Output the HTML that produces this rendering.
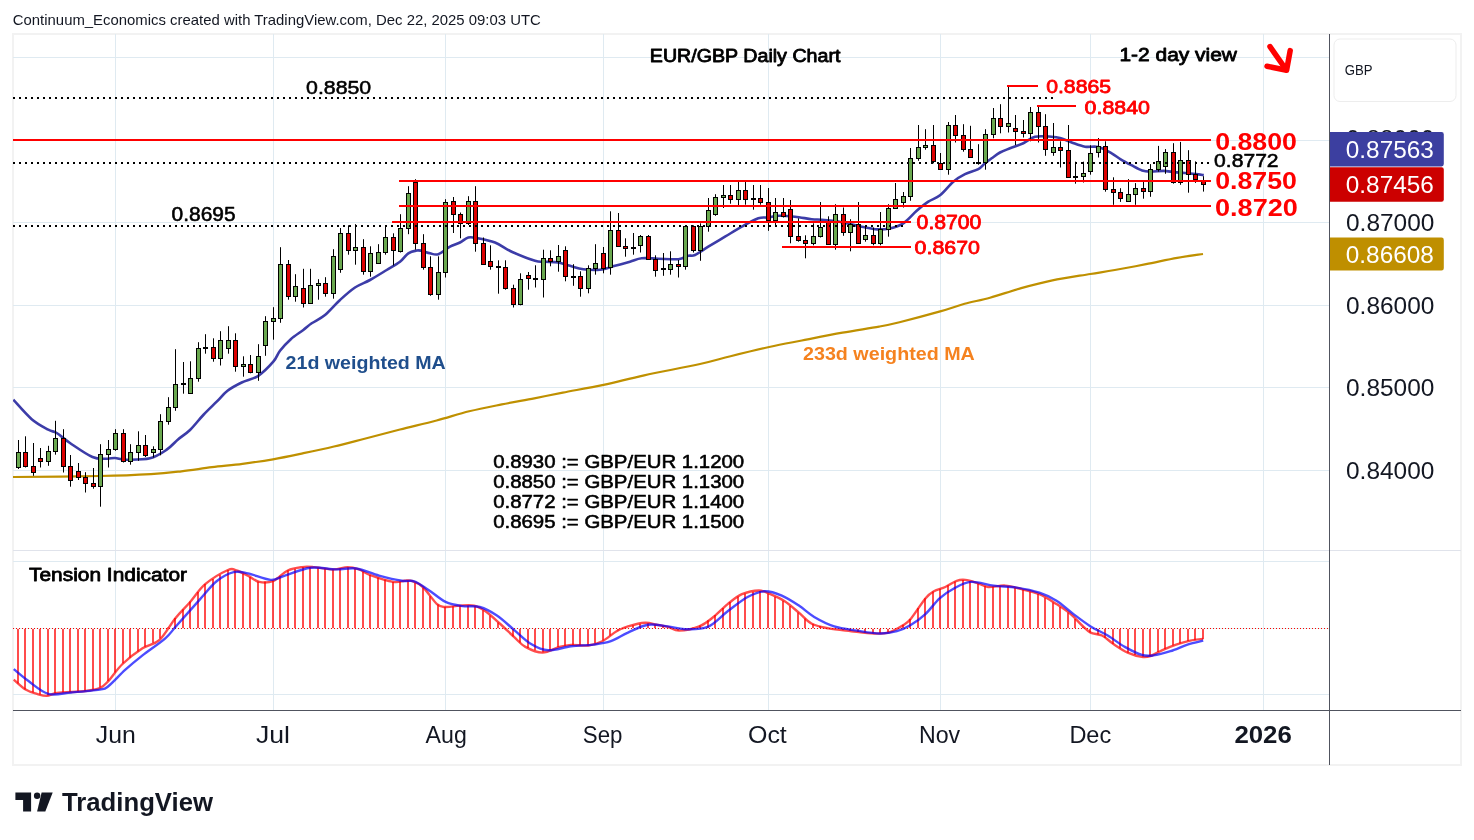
<!DOCTYPE html>
<html><head><meta charset="utf-8"><title>EUR/GBP Daily Chart</title>
<style>html,body{margin:0;padding:0;background:#fff;width:1474px;height:840px;overflow:hidden}</style>
</head><body>
<svg width="1474" height="840" viewBox="0 0 1474 840" style="display:block;will-change:transform"><rect width="1474" height="840" fill="#ffffff"/><defs><clipPath id="main"><rect x="13" y="34" width="1316" height="516"/></clipPath><clipPath id="ind"><rect x="13" y="551" width="1316" height="159"/></clipPath></defs><rect x="13" y="34" width="1448" height="731" fill="none" stroke="#f2f2f2" stroke-width="2"/><line x1="13" x2="1329" y1="57.5" y2="57.5" stroke="#dfeaf1" stroke-width="1"/><line x1="13" x2="1329" y1="140.5" y2="140.5" stroke="#dfeaf1" stroke-width="1"/><line x1="13" x2="1329" y1="222.5" y2="222.5" stroke="#dfeaf1" stroke-width="1"/><line x1="13" x2="1329" y1="305.5" y2="305.5" stroke="#dfeaf1" stroke-width="1"/><line x1="13" x2="1329" y1="387.5" y2="387.5" stroke="#dfeaf1" stroke-width="1"/><line x1="13" x2="1329" y1="470.5" y2="470.5" stroke="#dfeaf1" stroke-width="1"/><line x1="13" x2="1329" y1="561.5" y2="561.5" stroke="#dfeaf1" stroke-width="1"/><line x1="13" x2="1329" y1="694.5" y2="694.5" stroke="#dfeaf1" stroke-width="1"/><line x1="115.5" x2="115.5" y1="34" y2="550" stroke="#dfeaf1" stroke-width="1"/><line x1="115.5" x2="115.5" y1="551" y2="710" stroke="#dfeaf1" stroke-width="1"/><line x1="273.5" x2="273.5" y1="34" y2="550" stroke="#dfeaf1" stroke-width="1"/><line x1="273.5" x2="273.5" y1="551" y2="710" stroke="#dfeaf1" stroke-width="1"/><line x1="445.5" x2="445.5" y1="34" y2="550" stroke="#dfeaf1" stroke-width="1"/><line x1="445.5" x2="445.5" y1="551" y2="710" stroke="#dfeaf1" stroke-width="1"/><line x1="603.5" x2="603.5" y1="34" y2="550" stroke="#dfeaf1" stroke-width="1"/><line x1="603.5" x2="603.5" y1="551" y2="710" stroke="#dfeaf1" stroke-width="1"/><line x1="768.5" x2="768.5" y1="34" y2="550" stroke="#dfeaf1" stroke-width="1"/><line x1="768.5" x2="768.5" y1="551" y2="710" stroke="#dfeaf1" stroke-width="1"/><line x1="940.5" x2="940.5" y1="34" y2="550" stroke="#dfeaf1" stroke-width="1"/><line x1="940.5" x2="940.5" y1="551" y2="710" stroke="#dfeaf1" stroke-width="1"/><line x1="1090.5" x2="1090.5" y1="34" y2="550" stroke="#dfeaf1" stroke-width="1"/><line x1="1090.5" x2="1090.5" y1="551" y2="710" stroke="#dfeaf1" stroke-width="1"/><line x1="1263.5" x2="1263.5" y1="34" y2="550" stroke="#dfeaf1" stroke-width="1"/><line x1="1263.5" x2="1263.5" y1="551" y2="710" stroke="#dfeaf1" stroke-width="1"/><g clip-path="url(#main)"><path d="M13.00,477.00 C27.50,476.83 77.02,476.48 100.00,476.00 C122.98,475.52 137.33,474.88 150.90,474.10 C164.47,473.32 171.22,472.45 181.40,471.30 C191.58,470.15 201.82,468.45 212.00,467.20 C222.18,465.95 232.33,465.12 242.50,463.80 C252.67,462.48 262.83,461.07 273.00,459.30 C283.17,457.53 293.33,455.33 303.50,453.20 C313.67,451.07 323.82,448.92 334.00,446.50 C344.18,444.08 353.60,441.53 364.60,438.70 C375.60,435.87 388.00,432.53 400.00,429.50 C412.00,426.47 425.07,423.53 436.60,420.50 C448.13,417.47 458.33,413.98 469.20,411.30 C480.07,408.62 490.95,406.57 501.80,404.40 C512.65,402.23 524.13,400.27 534.30,398.30 C544.47,396.33 551.27,394.85 562.80,392.60 C574.33,390.35 589.93,387.68 603.50,384.80 C617.07,381.92 628.12,378.77 644.20,375.30 C660.28,371.83 685.62,367.18 700.00,364.00 C714.38,360.82 718.97,359.03 730.50,356.20 C742.03,353.37 757.32,349.62 769.20,347.00 C781.08,344.38 789.58,342.88 801.80,340.50 C814.02,338.12 829.62,335.02 842.50,332.70 C855.38,330.38 869.60,328.35 879.10,326.60 C888.60,324.85 889.32,324.73 899.50,322.20 C909.68,319.67 929.35,314.47 940.20,311.40 C951.05,308.33 956.30,306.08 964.60,303.80 C972.90,301.52 980.57,300.32 990.00,297.70 C999.43,295.08 1010.80,291.00 1021.20,288.10 C1031.60,285.20 1040.88,282.65 1052.40,280.30 C1063.92,277.95 1079.90,275.72 1090.30,274.00 C1100.70,272.28 1105.52,271.63 1114.80,270.00 C1124.08,268.37 1135.60,266.22 1146.00,264.20 C1156.40,262.18 1167.70,259.60 1177.20,257.90 C1186.70,256.20 1198.70,254.65 1203.00,254.00" fill="none" stroke="#bf9000" stroke-width="2.2" stroke-linejoin="round"/><path d="M13.30,399.70 C16.37,402.95 25.87,414.20 31.70,419.20 C37.53,424.20 44.13,427.40 48.30,429.70 C52.47,432.00 53.08,430.78 56.70,433.00 C60.32,435.22 64.03,439.00 70.00,443.00 C75.97,447.00 86.38,454.38 92.50,457.00 C98.62,459.62 102.95,458.53 106.70,458.70 C110.45,458.87 111.67,457.83 115.00,458.00 C118.33,458.17 120.87,459.65 126.70,459.70 C132.53,459.75 143.33,459.97 150.00,458.30 C156.67,456.63 161.98,452.88 166.70,449.70 C171.42,446.52 174.42,442.48 178.30,439.20 C182.18,435.92 185.83,434.03 190.00,430.00 C194.17,425.97 198.85,419.72 203.30,415.00 C207.75,410.28 212.67,405.73 216.70,401.70 C220.73,397.67 223.33,394.00 227.50,390.80 C231.67,387.60 236.57,385.00 241.70,382.50 C246.83,380.00 253.03,379.27 258.30,375.80 C263.57,372.33 269.68,365.87 273.30,361.70 C276.92,357.53 277.08,354.55 280.00,350.80 C282.92,347.05 286.92,342.67 290.80,339.20 C294.68,335.73 299.82,332.65 303.30,330.00 C306.78,327.35 308.08,325.80 311.70,323.30 C315.32,320.80 320.28,318.88 325.00,315.00 C329.72,311.12 335.00,304.58 340.00,300.00 C345.00,295.42 350.00,290.83 355.00,287.50 C360.00,284.17 364.72,282.92 370.00,280.00 C375.28,277.08 381.70,273.05 386.70,270.00 C391.70,266.95 396.40,264.48 400.00,261.70 C403.60,258.92 405.52,255.17 408.30,253.30 C411.08,251.43 414.47,250.92 416.70,250.50 C418.93,250.08 419.48,250.33 421.70,250.80 C423.92,251.27 427.23,252.73 430.00,253.30 C432.77,253.87 434.97,255.30 438.30,254.20 C441.63,253.10 446.38,248.65 450.00,246.70 C453.62,244.75 456.95,244.03 460.00,242.50 C463.05,240.97 465.52,238.25 468.30,237.50 C471.08,236.75 472.25,237.17 476.70,238.00 C481.15,238.83 489.17,240.22 495.00,242.50 C500.83,244.78 505.03,248.65 511.70,251.70 C518.37,254.75 529.45,259.13 535.00,260.80 C540.55,262.47 541.12,261.42 545.00,261.70 C548.88,261.98 554.13,261.82 558.30,262.50 C562.47,263.18 565.83,264.68 570.00,265.80 C574.17,266.92 578.30,268.55 583.30,269.20 C588.30,269.85 594.72,270.27 600.00,269.70 C605.28,269.13 610.00,267.13 615.00,265.80 C620.00,264.47 625.55,262.95 630.00,261.70 C634.45,260.45 636.98,258.80 641.70,258.30 C646.42,257.80 652.20,258.55 658.30,258.70 C664.40,258.85 673.30,259.68 678.30,259.20 C683.30,258.72 685.52,256.50 688.30,255.80 C691.08,255.10 691.67,256.52 695.00,255.00 C698.33,253.48 703.30,249.75 708.30,246.70 C713.30,243.65 719.43,240.03 725.00,236.70 C730.57,233.37 736.15,229.77 741.70,226.70 C747.25,223.63 753.87,219.83 758.30,218.30 C762.73,216.77 764.97,217.92 768.30,217.50 C771.63,217.08 773.85,215.93 778.30,215.80 C782.75,215.67 789.43,216.13 795.00,216.70 C800.57,217.27 807.25,218.70 811.70,219.20 C816.15,219.70 817.53,219.35 821.70,219.70 C825.87,220.05 832.82,220.75 836.70,221.30 C840.58,221.85 840.83,222.10 845.00,223.00 C849.17,223.90 856.70,225.67 861.70,226.70 C866.70,227.73 870.57,228.87 875.00,229.20 C879.43,229.53 883.58,229.68 888.30,228.70 C893.02,227.72 898.57,226.28 903.30,223.30 C908.03,220.32 912.53,214.40 916.70,210.80 C920.87,207.20 924.42,204.28 928.30,201.70 C932.18,199.12 935.83,198.63 940.00,195.30 C944.17,191.97 949.13,185.22 953.30,181.70 C957.47,178.18 960.83,176.28 965.00,174.20 C969.17,172.12 974.97,171.02 978.30,169.20 C981.63,167.38 982.77,165.12 985.00,163.30 C987.23,161.48 989.20,160.10 991.70,158.30 C994.20,156.50 996.95,154.17 1000.00,152.50 C1003.05,150.83 1006.12,149.83 1010.00,148.30 C1013.88,146.77 1019.13,145.23 1023.30,143.30 C1027.47,141.37 1030.27,137.80 1035.00,136.70 C1039.73,135.60 1047.53,136.48 1051.70,136.70 C1055.87,136.92 1056.67,137.03 1060.00,138.00 C1063.33,138.97 1067.53,141.05 1071.70,142.50 C1075.87,143.95 1080.57,145.95 1085.00,146.70 C1089.43,147.45 1093.85,145.90 1098.30,147.00 C1102.75,148.10 1107.97,151.25 1111.70,153.30 C1115.43,155.35 1117.42,157.32 1120.70,159.30 C1123.98,161.28 1127.83,163.33 1131.40,165.20 C1134.97,167.07 1138.88,169.43 1142.10,170.50 C1145.32,171.57 1147.12,171.53 1150.70,171.60 C1154.28,171.67 1159.67,170.82 1163.60,170.90 C1167.53,170.98 1170.73,171.75 1174.30,172.10 C1177.87,172.45 1181.43,172.67 1185.00,173.00 C1188.57,173.33 1192.57,173.75 1195.70,174.10 C1198.83,174.45 1202.45,174.93 1203.80,175.10" fill="none" stroke="#3c3ca8" stroke-width="2.6" stroke-linejoin="round" stroke-linecap="butt"/><line x1="18.5" x2="18.5" y1="440.0" y2="469.0" stroke="#000" stroke-width="1"/><rect x="16.5" y="452.5" width="4" height="15" fill="#6aa84f" stroke="#000" stroke-width="1"/><line x1="25.5" x2="25.5" y1="436.3" y2="467.5" stroke="#000" stroke-width="1"/><rect x="23.5" y="452.5" width="4" height="14" fill="#dc0000" stroke="#000" stroke-width="1"/><line x1="33.5" x2="33.5" y1="443.0" y2="475.8" stroke="#000" stroke-width="1"/><rect x="31.5" y="466.5" width="4" height="6" fill="#dc0000" stroke="#000" stroke-width="1"/><line x1="40.5" x2="40.5" y1="448.0" y2="467.5" stroke="#000" stroke-width="1"/><rect x="38.5" y="458.5" width="4" height="3" fill="#dc0000" stroke="#000" stroke-width="1"/><line x1="48.5" x2="48.5" y1="445.8" y2="465.8" stroke="#000" stroke-width="1"/><rect x="46.5" y="451.5" width="4" height="10" fill="#6aa84f" stroke="#000" stroke-width="1"/><line x1="55.5" x2="55.5" y1="420.8" y2="454.7" stroke="#000" stroke-width="1"/><rect x="53.5" y="438.5" width="4" height="13" fill="#6aa84f" stroke="#000" stroke-width="1"/><line x1="63.5" x2="63.5" y1="429.2" y2="472.5" stroke="#000" stroke-width="1"/><rect x="61.5" y="438.5" width="4" height="28" fill="#dc0000" stroke="#000" stroke-width="1"/><line x1="70.5" x2="70.5" y1="455.0" y2="486.7" stroke="#000" stroke-width="1"/><rect x="68.5" y="466.5" width="4" height="14" fill="#dc0000" stroke="#000" stroke-width="1"/><line x1="78.5" x2="78.5" y1="463.0" y2="480.0" stroke="#000" stroke-width="1"/><rect x="76.5" y="471.5" width="4" height="6" fill="#dc0000" stroke="#000" stroke-width="1"/><line x1="85.5" x2="85.5" y1="472.2" y2="492.5" stroke="#000" stroke-width="1"/><rect x="83.5" y="477.5" width="4" height="6" fill="#dc0000" stroke="#000" stroke-width="1"/><line x1="93.5" x2="93.5" y1="468.0" y2="488.7" stroke="#000" stroke-width="1"/><rect x="91.5" y="483.5" width="4" height="3" fill="#dc0000" stroke="#000" stroke-width="1"/><line x1="100.5" x2="100.5" y1="444.2" y2="506.7" stroke="#000" stroke-width="1"/><rect x="98.5" y="454.5" width="4" height="32" fill="#6aa84f" stroke="#000" stroke-width="1"/><line x1="108.5" x2="108.5" y1="440.0" y2="467.5" stroke="#000" stroke-width="1"/><rect x="106.5" y="449.5" width="4" height="5" fill="#6aa84f" stroke="#000" stroke-width="1"/><line x1="115.5" x2="115.5" y1="429.2" y2="450.8" stroke="#000" stroke-width="1"/><rect x="113.5" y="433.5" width="4" height="16" fill="#6aa84f" stroke="#000" stroke-width="1"/><line x1="123.5" x2="123.5" y1="429.2" y2="462.5" stroke="#000" stroke-width="1"/><rect x="121.5" y="433.5" width="4" height="28" fill="#dc0000" stroke="#000" stroke-width="1"/><line x1="130.5" x2="130.5" y1="444.2" y2="464.7" stroke="#000" stroke-width="1"/><rect x="128.5" y="452.5" width="4" height="9" fill="#6aa84f" stroke="#000" stroke-width="1"/><line x1="138.5" x2="138.5" y1="431.3" y2="460.8" stroke="#000" stroke-width="1"/><rect x="136.5" y="445.5" width="4" height="7" fill="#6aa84f" stroke="#000" stroke-width="1"/><line x1="145.5" x2="145.5" y1="435.0" y2="457.0" stroke="#000" stroke-width="1"/><rect x="143.5" y="445.5" width="4" height="10" fill="#dc0000" stroke="#000" stroke-width="1"/><line x1="153.5" x2="153.5" y1="446.3" y2="457.5" stroke="#000" stroke-width="1"/><rect x="151.5" y="449.5" width="4" height="3" fill="#6aa84f" stroke="#000" stroke-width="1"/><line x1="160.5" x2="160.5" y1="414.2" y2="455.3" stroke="#000" stroke-width="1"/><rect x="158.5" y="421.5" width="4" height="28" fill="#6aa84f" stroke="#000" stroke-width="1"/><line x1="168.5" x2="168.5" y1="397.2" y2="424.7" stroke="#000" stroke-width="1"/><rect x="166.5" y="407.5" width="4" height="14" fill="#6aa84f" stroke="#000" stroke-width="1"/><line x1="175.5" x2="175.5" y1="349.2" y2="410.8" stroke="#000" stroke-width="1"/><rect x="173.5" y="384.5" width="4" height="23" fill="#6aa84f" stroke="#000" stroke-width="1"/><line x1="183.5" x2="183.5" y1="362.0" y2="393.7" stroke="#000" stroke-width="1"/><rect x="181" y="383" width="5" height="2" fill="#000"/><line x1="190.5" x2="190.5" y1="361.3" y2="393.7" stroke="#000" stroke-width="1"/><rect x="188.5" y="378.5" width="4" height="15" fill="#6aa84f" stroke="#000" stroke-width="1"/><line x1="198.5" x2="198.5" y1="342.2" y2="381.7" stroke="#000" stroke-width="1"/><rect x="196.5" y="348.5" width="4" height="30" fill="#6aa84f" stroke="#000" stroke-width="1"/><line x1="205.5" x2="205.5" y1="334.2" y2="353.7" stroke="#000" stroke-width="1"/><rect x="203" y="347" width="5" height="2" fill="#000"/><line x1="213.5" x2="213.5" y1="338.3" y2="361.7" stroke="#000" stroke-width="1"/><rect x="211.5" y="347.5" width="4" height="11" fill="#dc0000" stroke="#000" stroke-width="1"/><line x1="220.5" x2="220.5" y1="331.2" y2="365.5" stroke="#000" stroke-width="1"/><rect x="218.5" y="340.5" width="4" height="18" fill="#6aa84f" stroke="#000" stroke-width="1"/><line x1="228.5" x2="228.5" y1="326.2" y2="353.7" stroke="#000" stroke-width="1"/><rect x="226.5" y="340.5" width="4" height="8" fill="#6aa84f" stroke="#000" stroke-width="1"/><line x1="235.5" x2="235.5" y1="333.3" y2="371.7" stroke="#000" stroke-width="1"/><rect x="233.5" y="340.5" width="4" height="26" fill="#dc0000" stroke="#000" stroke-width="1"/><line x1="243.5" x2="243.5" y1="356.3" y2="376.7" stroke="#000" stroke-width="1"/><rect x="241.5" y="364.5" width="4" height="2" fill="#6aa84f" stroke="#000" stroke-width="1"/><line x1="250.5" x2="250.5" y1="355.0" y2="373.3" stroke="#000" stroke-width="1"/><rect x="248.5" y="364.5" width="4" height="8" fill="#dc0000" stroke="#000" stroke-width="1"/><line x1="258.5" x2="258.5" y1="344.2" y2="380.8" stroke="#000" stroke-width="1"/><rect x="256.5" y="356.5" width="4" height="16" fill="#6aa84f" stroke="#000" stroke-width="1"/><line x1="265.5" x2="265.5" y1="316.2" y2="355.8" stroke="#000" stroke-width="1"/><rect x="263.5" y="321.5" width="4" height="24" fill="#6aa84f" stroke="#000" stroke-width="1"/><line x1="273.5" x2="273.5" y1="307.2" y2="339.7" stroke="#000" stroke-width="1"/><rect x="271.5" y="318.5" width="4" height="3" fill="#6aa84f" stroke="#000" stroke-width="1"/><line x1="280.5" x2="280.5" y1="247.2" y2="322.8" stroke="#000" stroke-width="1"/><rect x="278.5" y="264.5" width="4" height="54" fill="#6aa84f" stroke="#000" stroke-width="1"/><line x1="288.5" x2="288.5" y1="260.0" y2="299.7" stroke="#000" stroke-width="1"/><rect x="286.5" y="264.5" width="4" height="32" fill="#dc0000" stroke="#000" stroke-width="1"/><line x1="295.5" x2="295.5" y1="274.2" y2="301.7" stroke="#000" stroke-width="1"/><rect x="293.5" y="286.5" width="4" height="10" fill="#6aa84f" stroke="#000" stroke-width="1"/><line x1="303.5" x2="303.5" y1="268.8" y2="307.5" stroke="#000" stroke-width="1"/><rect x="301.5" y="288.5" width="4" height="15" fill="#dc0000" stroke="#000" stroke-width="1"/><line x1="310.5" x2="310.5" y1="268.8" y2="303.3" stroke="#000" stroke-width="1"/><rect x="308.5" y="285.5" width="4" height="18" fill="#6aa84f" stroke="#000" stroke-width="1"/><line x1="318.5" x2="318.5" y1="279.2" y2="299.7" stroke="#000" stroke-width="1"/><rect x="316.5" y="283.5" width="4" height="2" fill="#6aa84f" stroke="#000" stroke-width="1"/><line x1="325.5" x2="325.5" y1="277.2" y2="296.7" stroke="#000" stroke-width="1"/><rect x="323.5" y="283.5" width="4" height="10" fill="#dc0000" stroke="#000" stroke-width="1"/><line x1="333.5" x2="333.5" y1="249.2" y2="298.7" stroke="#000" stroke-width="1"/><rect x="331.5" y="256.5" width="4" height="37" fill="#6aa84f" stroke="#000" stroke-width="1"/><line x1="340.5" x2="340.5" y1="228.0" y2="272.8" stroke="#000" stroke-width="1"/><rect x="338.5" y="233.5" width="4" height="36" fill="#6aa84f" stroke="#000" stroke-width="1"/><line x1="348.5" x2="348.5" y1="225.3" y2="254.7" stroke="#000" stroke-width="1"/><rect x="346.5" y="233.5" width="4" height="17" fill="#dc0000" stroke="#000" stroke-width="1"/><line x1="355.5" x2="355.5" y1="224.2" y2="264.7" stroke="#000" stroke-width="1"/><rect x="353.5" y="247.5" width="4" height="3" fill="#6aa84f" stroke="#000" stroke-width="1"/><line x1="363.5" x2="363.5" y1="239.2" y2="274.7" stroke="#000" stroke-width="1"/><rect x="361.5" y="247.5" width="4" height="24" fill="#dc0000" stroke="#000" stroke-width="1"/><line x1="370.5" x2="370.5" y1="246.3" y2="276.7" stroke="#000" stroke-width="1"/><rect x="368.5" y="253.5" width="4" height="18" fill="#6aa84f" stroke="#000" stroke-width="1"/><line x1="378.5" x2="378.5" y1="244.2" y2="263.3" stroke="#000" stroke-width="1"/><rect x="376.5" y="252.5" width="4" height="11" fill="#6aa84f" stroke="#000" stroke-width="1"/><line x1="385.5" x2="385.5" y1="225.3" y2="254.7" stroke="#000" stroke-width="1"/><rect x="383.5" y="237.5" width="4" height="15" fill="#6aa84f" stroke="#000" stroke-width="1"/><line x1="393.5" x2="393.5" y1="233.3" y2="265.5" stroke="#000" stroke-width="1"/><rect x="391.5" y="237.5" width="4" height="13" fill="#dc0000" stroke="#000" stroke-width="1"/><line x1="400.5" x2="400.5" y1="214.2" y2="252.5" stroke="#000" stroke-width="1"/><rect x="398.5" y="228.5" width="4" height="23" fill="#6aa84f" stroke="#000" stroke-width="1"/><line x1="408.5" x2="408.5" y1="186.2" y2="234.2" stroke="#000" stroke-width="1"/><rect x="406.5" y="193.5" width="4" height="35" fill="#6aa84f" stroke="#000" stroke-width="1"/><line x1="415.5" x2="415.5" y1="179.2" y2="249.7" stroke="#000" stroke-width="1"/><rect x="413.5" y="182.5" width="4" height="61" fill="#dc0000" stroke="#000" stroke-width="1"/><line x1="423.5" x2="423.5" y1="234.2" y2="269.7" stroke="#000" stroke-width="1"/><rect x="421.5" y="243.5" width="4" height="24" fill="#dc0000" stroke="#000" stroke-width="1"/><line x1="430.5" x2="430.5" y1="256.3" y2="295.8" stroke="#000" stroke-width="1"/><rect x="428.5" y="267.5" width="4" height="27" fill="#dc0000" stroke="#000" stroke-width="1"/><line x1="438.5" x2="438.5" y1="256.3" y2="299.7" stroke="#000" stroke-width="1"/><rect x="436.5" y="272.5" width="4" height="22" fill="#6aa84f" stroke="#000" stroke-width="1"/><line x1="445.5" x2="445.5" y1="199.2" y2="277.5" stroke="#000" stroke-width="1"/><rect x="443.5" y="202.5" width="4" height="70" fill="#6aa84f" stroke="#000" stroke-width="1"/><line x1="453.5" x2="453.5" y1="197.0" y2="233.0" stroke="#000" stroke-width="1"/><rect x="451.5" y="201.5" width="4" height="13" fill="#dc0000" stroke="#000" stroke-width="1"/><line x1="460.5" x2="460.5" y1="212.5" y2="238.3" stroke="#000" stroke-width="1"/><rect x="458.5" y="214.5" width="4" height="9" fill="#dc0000" stroke="#000" stroke-width="1"/><line x1="468.5" x2="468.5" y1="196.2" y2="225.0" stroke="#000" stroke-width="1"/><rect x="466.5" y="201.5" width="4" height="22" fill="#6aa84f" stroke="#000" stroke-width="1"/><line x1="475.5" x2="475.5" y1="186.2" y2="251.7" stroke="#000" stroke-width="1"/><rect x="473.5" y="201.5" width="4" height="42" fill="#dc0000" stroke="#000" stroke-width="1"/><line x1="483.5" x2="483.5" y1="237.5" y2="264.7" stroke="#000" stroke-width="1"/><rect x="481.5" y="243.5" width="4" height="21" fill="#dc0000" stroke="#000" stroke-width="1"/><line x1="490.5" x2="490.5" y1="245.3" y2="269.7" stroke="#000" stroke-width="1"/><rect x="488.5" y="261.5" width="4" height="5" fill="#dc0000" stroke="#000" stroke-width="1"/><line x1="498.5" x2="498.5" y1="260.3" y2="293.7" stroke="#000" stroke-width="1"/><rect x="496" y="266" width="5" height="2" fill="#000"/><line x1="505.5" x2="505.5" y1="260.3" y2="289.7" stroke="#000" stroke-width="1"/><rect x="503.5" y="267.5" width="4" height="21" fill="#dc0000" stroke="#000" stroke-width="1"/><line x1="513.5" x2="513.5" y1="284.7" y2="307.5" stroke="#000" stroke-width="1"/><rect x="511.5" y="288.5" width="4" height="16" fill="#dc0000" stroke="#000" stroke-width="1"/><line x1="520.5" x2="520.5" y1="273.3" y2="305.3" stroke="#000" stroke-width="1"/><rect x="518.5" y="279.5" width="4" height="25" fill="#6aa84f" stroke="#000" stroke-width="1"/><line x1="528.5" x2="528.5" y1="272.0" y2="289.7" stroke="#000" stroke-width="1"/><rect x="526.5" y="275.5" width="4" height="3" fill="#dc0000" stroke="#000" stroke-width="1"/><line x1="535.5" x2="535.5" y1="265.3" y2="287.5" stroke="#000" stroke-width="1"/><rect x="533" y="278" width="5" height="2" fill="#000"/><line x1="543.5" x2="543.5" y1="249.7" y2="297.5" stroke="#000" stroke-width="1"/><rect x="541.5" y="258.5" width="4" height="21" fill="#6aa84f" stroke="#000" stroke-width="1"/><line x1="550.5" x2="550.5" y1="250.3" y2="266.3" stroke="#000" stroke-width="1"/><rect x="548.5" y="258.5" width="4" height="3" fill="#dc0000" stroke="#000" stroke-width="1"/><line x1="558.5" x2="558.5" y1="245.0" y2="271.7" stroke="#000" stroke-width="1"/><rect x="556.5" y="256.5" width="4" height="5" fill="#6aa84f" stroke="#000" stroke-width="1"/><line x1="565.5" x2="565.5" y1="246.3" y2="281.3" stroke="#000" stroke-width="1"/><rect x="563.5" y="250.5" width="4" height="26" fill="#dc0000" stroke="#000" stroke-width="1"/><line x1="573.5" x2="573.5" y1="264.2" y2="285.8" stroke="#000" stroke-width="1"/><rect x="571" y="276" width="5" height="2" fill="#000"/><line x1="580.5" x2="580.5" y1="271.3" y2="296.7" stroke="#000" stroke-width="1"/><rect x="578.5" y="276.5" width="4" height="12" fill="#dc0000" stroke="#000" stroke-width="1"/><line x1="588.5" x2="588.5" y1="265.3" y2="293.3" stroke="#000" stroke-width="1"/><rect x="586.5" y="268.5" width="4" height="20" fill="#6aa84f" stroke="#000" stroke-width="1"/><line x1="595.5" x2="595.5" y1="244.2" y2="274.7" stroke="#000" stroke-width="1"/><rect x="593.5" y="263.5" width="4" height="5" fill="#6aa84f" stroke="#000" stroke-width="1"/><line x1="603.5" x2="603.5" y1="247.0" y2="273.3" stroke="#000" stroke-width="1"/><rect x="601.5" y="253.5" width="4" height="15" fill="#dc0000" stroke="#000" stroke-width="1"/><line x1="610.5" x2="610.5" y1="211.3" y2="274.7" stroke="#000" stroke-width="1"/><rect x="608.5" y="230.5" width="4" height="37" fill="#6aa84f" stroke="#000" stroke-width="1"/><line x1="618.5" x2="618.5" y1="213.0" y2="246.3" stroke="#000" stroke-width="1"/><rect x="616.5" y="230.5" width="4" height="16" fill="#dc0000" stroke="#000" stroke-width="1"/><line x1="625.5" x2="625.5" y1="238.3" y2="256.7" stroke="#000" stroke-width="1"/><rect x="623.5" y="246.5" width="4" height="2" fill="#dc0000" stroke="#000" stroke-width="1"/><line x1="633.5" x2="633.5" y1="233.0" y2="254.7" stroke="#000" stroke-width="1"/><rect x="631" y="247" width="5" height="2" fill="#000"/><line x1="640.5" x2="640.5" y1="235.0" y2="252.5" stroke="#000" stroke-width="1"/><rect x="638.5" y="236.5" width="4" height="9" fill="#6aa84f" stroke="#000" stroke-width="1"/><line x1="648.5" x2="648.5" y1="235.0" y2="259.2" stroke="#000" stroke-width="1"/><rect x="646.5" y="236.5" width="4" height="23" fill="#dc0000" stroke="#000" stroke-width="1"/><line x1="655.5" x2="655.5" y1="255.3" y2="276.7" stroke="#000" stroke-width="1"/><rect x="653.5" y="259.5" width="4" height="11" fill="#dc0000" stroke="#000" stroke-width="1"/><line x1="663.5" x2="663.5" y1="253.0" y2="275.8" stroke="#000" stroke-width="1"/><rect x="661" y="268" width="5" height="2" fill="#000"/><line x1="670.5" x2="670.5" y1="251.3" y2="274.7" stroke="#000" stroke-width="1"/><rect x="668.5" y="264.5" width="4" height="5" fill="#6aa84f" stroke="#000" stroke-width="1"/><line x1="678.5" x2="678.5" y1="260.0" y2="277.5" stroke="#000" stroke-width="1"/><rect x="676.5" y="264.5" width="4" height="2" fill="#dc0000" stroke="#000" stroke-width="1"/><line x1="685.5" x2="685.5" y1="225.8" y2="269.7" stroke="#000" stroke-width="1"/><rect x="683.5" y="226.5" width="4" height="40" fill="#6aa84f" stroke="#000" stroke-width="1"/><line x1="693.5" x2="693.5" y1="225.3" y2="252.5" stroke="#000" stroke-width="1"/><rect x="691.5" y="226.5" width="4" height="24" fill="#dc0000" stroke="#000" stroke-width="1"/><line x1="700.5" x2="700.5" y1="223.3" y2="260.8" stroke="#000" stroke-width="1"/><rect x="698.5" y="226.5" width="4" height="24" fill="#6aa84f" stroke="#000" stroke-width="1"/><line x1="708.5" x2="708.5" y1="198.0" y2="231.7" stroke="#000" stroke-width="1"/><rect x="706.5" y="210.5" width="4" height="16" fill="#6aa84f" stroke="#000" stroke-width="1"/><line x1="715.5" x2="715.5" y1="194.2" y2="215.8" stroke="#000" stroke-width="1"/><rect x="713.5" y="197.5" width="4" height="17" fill="#6aa84f" stroke="#000" stroke-width="1"/><line x1="723.5" x2="723.5" y1="185.0" y2="208.0" stroke="#000" stroke-width="1"/><rect x="721.5" y="195.5" width="4" height="2" fill="#6aa84f" stroke="#000" stroke-width="1"/><line x1="730.5" x2="730.5" y1="185.0" y2="203.7" stroke="#000" stroke-width="1"/><rect x="728.5" y="195.5" width="4" height="4" fill="#dc0000" stroke="#000" stroke-width="1"/><line x1="738.5" x2="738.5" y1="181.7" y2="205.0" stroke="#000" stroke-width="1"/><rect x="736.5" y="190.5" width="4" height="9" fill="#6aa84f" stroke="#000" stroke-width="1"/><line x1="745.5" x2="745.5" y1="181.7" y2="204.7" stroke="#000" stroke-width="1"/><rect x="743.5" y="190.5" width="4" height="9" fill="#dc0000" stroke="#000" stroke-width="1"/><line x1="753.5" x2="753.5" y1="185.0" y2="209.7" stroke="#000" stroke-width="1"/><rect x="751" y="198" width="5" height="2" fill="#000"/><line x1="760.5" x2="760.5" y1="185.0" y2="204.7" stroke="#000" stroke-width="1"/><rect x="758.5" y="198.5" width="4" height="4" fill="#dc0000" stroke="#000" stroke-width="1"/><line x1="768.5" x2="768.5" y1="188.0" y2="230.8" stroke="#000" stroke-width="1"/><rect x="766.5" y="202.5" width="4" height="18" fill="#dc0000" stroke="#000" stroke-width="1"/><line x1="775.5" x2="775.5" y1="198.0" y2="226.3" stroke="#000" stroke-width="1"/><rect x="773.5" y="212.5" width="4" height="8" fill="#6aa84f" stroke="#000" stroke-width="1"/><line x1="783.5" x2="783.5" y1="198.0" y2="217.5" stroke="#000" stroke-width="1"/><rect x="781.5" y="212.5" width="4" height="4" fill="#dc0000" stroke="#000" stroke-width="1"/><line x1="790.5" x2="790.5" y1="200.0" y2="243.3" stroke="#000" stroke-width="1"/><rect x="788.5" y="209.5" width="4" height="27" fill="#dc0000" stroke="#000" stroke-width="1"/><line x1="798.5" x2="798.5" y1="218.3" y2="241.7" stroke="#000" stroke-width="1"/><rect x="796.5" y="236.5" width="4" height="4" fill="#dc0000" stroke="#000" stroke-width="1"/><line x1="805.5" x2="805.5" y1="235.3" y2="258.3" stroke="#000" stroke-width="1"/><rect x="803.5" y="240.5" width="4" height="3" fill="#dc0000" stroke="#000" stroke-width="1"/><line x1="813.5" x2="813.5" y1="223.3" y2="245.3" stroke="#000" stroke-width="1"/><rect x="811.5" y="236.5" width="4" height="7" fill="#6aa84f" stroke="#000" stroke-width="1"/><line x1="820.5" x2="820.5" y1="202.0" y2="237.5" stroke="#000" stroke-width="1"/><rect x="818.5" y="227.5" width="4" height="9" fill="#6aa84f" stroke="#000" stroke-width="1"/><line x1="828.5" x2="828.5" y1="216.3" y2="244.2" stroke="#000" stroke-width="1"/><rect x="826.5" y="222.5" width="4" height="22" fill="#dc0000" stroke="#000" stroke-width="1"/><line x1="835.5" x2="835.5" y1="204.2" y2="249.7" stroke="#000" stroke-width="1"/><rect x="833.5" y="214.5" width="4" height="30" fill="#6aa84f" stroke="#000" stroke-width="1"/><line x1="843.5" x2="843.5" y1="207.5" y2="235.8" stroke="#000" stroke-width="1"/><rect x="841.5" y="214.5" width="4" height="18" fill="#dc0000" stroke="#000" stroke-width="1"/><line x1="850.5" x2="850.5" y1="219.2" y2="251.3" stroke="#000" stroke-width="1"/><rect x="848.5" y="224.5" width="4" height="8" fill="#6aa84f" stroke="#000" stroke-width="1"/><line x1="858.5" x2="858.5" y1="202.0" y2="243.3" stroke="#000" stroke-width="1"/><rect x="856.5" y="224.5" width="4" height="19" fill="#dc0000" stroke="#000" stroke-width="1"/><line x1="865.5" x2="865.5" y1="225.3" y2="241.7" stroke="#000" stroke-width="1"/><rect x="863.5" y="235.5" width="4" height="4" fill="#6aa84f" stroke="#000" stroke-width="1"/><line x1="873.5" x2="873.5" y1="227.5" y2="245.3" stroke="#000" stroke-width="1"/><rect x="871.5" y="235.5" width="4" height="8" fill="#dc0000" stroke="#000" stroke-width="1"/><line x1="880.5" x2="880.5" y1="212.0" y2="245.3" stroke="#000" stroke-width="1"/><rect x="878.5" y="229.5" width="4" height="14" fill="#6aa84f" stroke="#000" stroke-width="1"/><line x1="888.5" x2="888.5" y1="204.2" y2="236.7" stroke="#000" stroke-width="1"/><rect x="886.5" y="208.5" width="4" height="21" fill="#6aa84f" stroke="#000" stroke-width="1"/><line x1="895.5" x2="895.5" y1="183.0" y2="208.3" stroke="#000" stroke-width="1"/><rect x="893.5" y="199.5" width="4" height="9" fill="#6aa84f" stroke="#000" stroke-width="1"/><line x1="903.5" x2="903.5" y1="192.0" y2="207.5" stroke="#000" stroke-width="1"/><rect x="901.5" y="196.5" width="4" height="6" fill="#6aa84f" stroke="#000" stroke-width="1"/><line x1="910.5" x2="910.5" y1="148.0" y2="200.8" stroke="#000" stroke-width="1"/><rect x="908.5" y="158.5" width="4" height="38" fill="#6aa84f" stroke="#000" stroke-width="1"/><line x1="918.5" x2="918.5" y1="125.0" y2="160.8" stroke="#000" stroke-width="1"/><rect x="916.5" y="147.5" width="4" height="11" fill="#6aa84f" stroke="#000" stroke-width="1"/><line x1="925.5" x2="925.5" y1="129.2" y2="149.7" stroke="#000" stroke-width="1"/><rect x="923.5" y="145.5" width="4" height="2" fill="#6aa84f" stroke="#000" stroke-width="1"/><line x1="933.5" x2="933.5" y1="125.0" y2="163.3" stroke="#000" stroke-width="1"/><rect x="931.5" y="145.5" width="4" height="16" fill="#dc0000" stroke="#000" stroke-width="1"/><line x1="940.5" x2="940.5" y1="153.0" y2="169.2" stroke="#000" stroke-width="1"/><rect x="938.5" y="163.5" width="4" height="6" fill="#dc0000" stroke="#000" stroke-width="1"/><line x1="948.5" x2="948.5" y1="122.0" y2="174.7" stroke="#000" stroke-width="1"/><rect x="946.5" y="125.5" width="4" height="44" fill="#6aa84f" stroke="#000" stroke-width="1"/><line x1="955.5" x2="955.5" y1="115.0" y2="142.5" stroke="#000" stroke-width="1"/><rect x="953.5" y="125.5" width="4" height="10" fill="#dc0000" stroke="#000" stroke-width="1"/><line x1="963.5" x2="963.5" y1="124.2" y2="151.7" stroke="#000" stroke-width="1"/><rect x="961.5" y="135.5" width="4" height="14" fill="#dc0000" stroke="#000" stroke-width="1"/><line x1="970.5" x2="970.5" y1="125.8" y2="157.5" stroke="#000" stroke-width="1"/><rect x="968.5" y="149.5" width="4" height="8" fill="#dc0000" stroke="#000" stroke-width="1"/><line x1="978.5" x2="978.5" y1="144.2" y2="164.7" stroke="#000" stroke-width="1"/><rect x="976" y="162" width="5" height="2" fill="#000"/><line x1="985.5" x2="985.5" y1="129.2" y2="169.7" stroke="#000" stroke-width="1"/><rect x="983.5" y="134.5" width="4" height="28" fill="#6aa84f" stroke="#000" stroke-width="1"/><line x1="993.5" x2="993.5" y1="108.0" y2="138.3" stroke="#000" stroke-width="1"/><rect x="991.5" y="118.5" width="4" height="16" fill="#6aa84f" stroke="#000" stroke-width="1"/><line x1="1000.5" x2="1000.5" y1="104.2" y2="133.3" stroke="#000" stroke-width="1"/><rect x="998.5" y="118.5" width="4" height="8" fill="#dc0000" stroke="#000" stroke-width="1"/><line x1="1008.5" x2="1008.5" y1="85.8" y2="132.5" stroke="#000" stroke-width="1"/><rect x="1006.5" y="123.5" width="4" height="3" fill="#6aa84f" stroke="#000" stroke-width="1"/><line x1="1015.5" x2="1015.5" y1="115.0" y2="145.0" stroke="#000" stroke-width="1"/><rect x="1013.5" y="128.5" width="4" height="3" fill="#dc0000" stroke="#000" stroke-width="1"/><line x1="1023.5" x2="1023.5" y1="120.0" y2="137.5" stroke="#000" stroke-width="1"/><rect x="1021.5" y="131.5" width="4" height="2" fill="#dc0000" stroke="#000" stroke-width="1"/><line x1="1030.5" x2="1030.5" y1="107.0" y2="141.3" stroke="#000" stroke-width="1"/><rect x="1028.5" y="112.5" width="4" height="21" fill="#6aa84f" stroke="#000" stroke-width="1"/><line x1="1038.5" x2="1038.5" y1="107.0" y2="142.5" stroke="#000" stroke-width="1"/><rect x="1036.5" y="112.5" width="4" height="14" fill="#dc0000" stroke="#000" stroke-width="1"/><line x1="1045.5" x2="1045.5" y1="114.2" y2="155.8" stroke="#000" stroke-width="1"/><rect x="1043.5" y="126.5" width="4" height="23" fill="#dc0000" stroke="#000" stroke-width="1"/><line x1="1053.5" x2="1053.5" y1="123.0" y2="155.8" stroke="#000" stroke-width="1"/><rect x="1051.5" y="147.5" width="4" height="5" fill="#6aa84f" stroke="#000" stroke-width="1"/><line x1="1060.5" x2="1060.5" y1="141.3" y2="167.5" stroke="#000" stroke-width="1"/><rect x="1058.5" y="147.5" width="4" height="3" fill="#dc0000" stroke="#000" stroke-width="1"/><line x1="1068.5" x2="1068.5" y1="125.0" y2="177.5" stroke="#000" stroke-width="1"/><rect x="1066.5" y="150.5" width="4" height="27" fill="#dc0000" stroke="#000" stroke-width="1"/><line x1="1075.5" x2="1075.5" y1="161.7" y2="183.7" stroke="#000" stroke-width="1"/><rect x="1073" y="176" width="5" height="2" fill="#000"/><line x1="1083.5" x2="1083.5" y1="161.7" y2="182.5" stroke="#000" stroke-width="1"/><rect x="1081.5" y="173.5" width="4" height="3" fill="#6aa84f" stroke="#000" stroke-width="1"/><line x1="1090.5" x2="1090.5" y1="145.3" y2="174.7" stroke="#000" stroke-width="1"/><rect x="1088.5" y="153.5" width="4" height="18" fill="#6aa84f" stroke="#000" stroke-width="1"/><line x1="1098.5" x2="1098.5" y1="138.0" y2="157.5" stroke="#000" stroke-width="1"/><rect x="1096.5" y="146.5" width="4" height="6" fill="#6aa84f" stroke="#000" stroke-width="1"/><line x1="1105.5" x2="1105.5" y1="141.3" y2="191.7" stroke="#000" stroke-width="1"/><rect x="1103.5" y="146.5" width="4" height="43" fill="#dc0000" stroke="#000" stroke-width="1"/><line x1="1113.5" x2="1113.5" y1="177.3" y2="204.8" stroke="#000" stroke-width="1"/><rect x="1111.5" y="189.5" width="4" height="3" fill="#dc0000" stroke="#000" stroke-width="1"/><line x1="1120.5" x2="1120.5" y1="188.2" y2="201.9" stroke="#000" stroke-width="1"/><rect x="1118.5" y="192.5" width="4" height="6" fill="#dc0000" stroke="#000" stroke-width="1"/><line x1="1128.5" x2="1128.5" y1="179.1" y2="201.6" stroke="#000" stroke-width="1"/><rect x="1126.5" y="194.5" width="4" height="7" fill="#6aa84f" stroke="#000" stroke-width="1"/><line x1="1135.5" x2="1135.5" y1="183.1" y2="204.8" stroke="#000" stroke-width="1"/><rect x="1133.5" y="188.5" width="4" height="6" fill="#6aa84f" stroke="#000" stroke-width="1"/><line x1="1143.5" x2="1143.5" y1="182.0" y2="198.7" stroke="#000" stroke-width="1"/><rect x="1141.5" y="188.5" width="4" height="3" fill="#dc0000" stroke="#000" stroke-width="1"/><line x1="1150.5" x2="1150.5" y1="164.1" y2="196.8" stroke="#000" stroke-width="1"/><rect x="1148.5" y="169.5" width="4" height="22" fill="#6aa84f" stroke="#000" stroke-width="1"/><line x1="1158.5" x2="1158.5" y1="145.9" y2="171.6" stroke="#000" stroke-width="1"/><rect x="1156.5" y="161.5" width="4" height="8" fill="#6aa84f" stroke="#000" stroke-width="1"/><line x1="1165.5" x2="1165.5" y1="149.1" y2="173.8" stroke="#000" stroke-width="1"/><rect x="1163.5" y="152.5" width="4" height="14" fill="#6aa84f" stroke="#000" stroke-width="1"/><line x1="1173.5" x2="1173.5" y1="143.2" y2="183.7" stroke="#000" stroke-width="1"/><rect x="1171.5" y="152.5" width="4" height="30" fill="#dc0000" stroke="#000" stroke-width="1"/><line x1="1180.5" x2="1180.5" y1="141.9" y2="184.8" stroke="#000" stroke-width="1"/><rect x="1178.5" y="160.5" width="4" height="22" fill="#6aa84f" stroke="#000" stroke-width="1"/><line x1="1188.5" x2="1188.5" y1="150.2" y2="192.7" stroke="#000" stroke-width="1"/><rect x="1186.5" y="160.5" width="4" height="14" fill="#dc0000" stroke="#000" stroke-width="1"/><line x1="1195.5" x2="1195.5" y1="161.4" y2="182.9" stroke="#000" stroke-width="1"/><rect x="1193.5" y="174.5" width="4" height="5" fill="#dc0000" stroke="#000" stroke-width="1"/><line x1="1203.5" x2="1203.5" y1="176.2" y2="191.6" stroke="#000" stroke-width="1"/><rect x="1201.5" y="180.5" width="4" height="4" fill="#dc0000" stroke="#000" stroke-width="1"/><line x1="13" x2="1053" y1="98" y2="98" stroke="#000" stroke-width="2" stroke-dasharray="2 4"/><line x1="13" x2="1209" y1="163" y2="163" stroke="#000" stroke-width="2" stroke-dasharray="2 4"/><line x1="13" x2="903" y1="226" y2="226" stroke="#000" stroke-width="2" stroke-dasharray="2 4"/><line x1="13" x2="1211" y1="140" y2="140" stroke="#ff0000" stroke-width="2"/><line x1="399" x2="1211" y1="181" y2="181" stroke="#ff0000" stroke-width="2"/><line x1="399" x2="1211" y1="206" y2="206" stroke="#ff0000" stroke-width="2"/><line x1="392" x2="911" y1="222" y2="222" stroke="#ff0000" stroke-width="2"/><line x1="782" x2="911" y1="247" y2="247" stroke="#ff0000" stroke-width="2"/><line x1="1007" x2="1038" y1="86" y2="86" stroke="#ff0000" stroke-width="2"/><line x1="1037" x2="1076" y1="106" y2="106" stroke="#ff0000" stroke-width="2"/></g><text x="12.80" y="24.7" font-family="'Liberation Sans', sans-serif" font-size="14.8" font-weight="normal" fill="#131722" textLength="528.00" lengthAdjust="spacingAndGlyphs">Continuum_Economics created with TradingView.com, Dec 22, 2025 09:03 UTC</text><text x="649.80" y="61.5" font-family="'Liberation Sans', sans-serif" font-size="17.7" font-weight="normal" fill="#000" stroke="#000" stroke-width="0.8" stroke-linejoin="round" textLength="190.60" lengthAdjust="spacingAndGlyphs">EUR/GBP Daily Chart</text><text x="1119.40" y="60.6" font-family="'Liberation Sans', sans-serif" font-size="18" font-weight="normal" fill="#000" stroke="#000" stroke-width="0.8" stroke-linejoin="round" textLength="117.60" lengthAdjust="spacingAndGlyphs">1-2 day view</text><g stroke="#ff0000" stroke-width="5.5" stroke-linecap="round" stroke-linejoin="round" fill="none"><line x1="1270" y1="46.6" x2="1286" y2="69.5"/><polyline points="1267,66.3 1286.6,70.2 1290.2,50.6"/></g><text x="306.10" y="93.8" font-family="'Liberation Sans', sans-serif" font-size="19" font-weight="normal" fill="#000" stroke="#000" stroke-width="0.55" stroke-linejoin="round" textLength="65.10" lengthAdjust="spacingAndGlyphs">0.8850</text><text x="171.60" y="220.9" font-family="'Liberation Sans', sans-serif" font-size="19.3" font-weight="normal" fill="#000" stroke="#000" stroke-width="0.55" stroke-linejoin="round" textLength="64.00" lengthAdjust="spacingAndGlyphs">0.8695</text><text x="1214.10" y="167.3" font-family="'Liberation Sans', sans-serif" font-size="18" font-weight="normal" fill="#000" stroke="#000" stroke-width="0.55" stroke-linejoin="round" textLength="64.50" lengthAdjust="spacingAndGlyphs">0.8772</text><text x="1215.20" y="149.7" font-family="'Liberation Sans', sans-serif" font-size="24" font-weight="bold" fill="#ff0000" textLength="81.80" lengthAdjust="spacingAndGlyphs">0.8800</text><text x="1215.20" y="188.8" font-family="'Liberation Sans', sans-serif" font-size="24" font-weight="bold" fill="#ff0000" textLength="81.80" lengthAdjust="spacingAndGlyphs">0.8750</text><text x="1215.00" y="215.6" font-family="'Liberation Sans', sans-serif" font-size="24" font-weight="bold" fill="#ff0000" textLength="82.80" lengthAdjust="spacingAndGlyphs">0.8720</text><text x="916.60" y="228.9" font-family="'Liberation Sans', sans-serif" font-size="19.4" font-weight="normal" fill="#ff0000" stroke="#ff0000" stroke-width="0.8" stroke-linejoin="round" textLength="64.80" lengthAdjust="spacingAndGlyphs">0.8700</text><text x="914.60" y="253.8" font-family="'Liberation Sans', sans-serif" font-size="19.2" font-weight="normal" fill="#ff0000" stroke="#ff0000" stroke-width="0.8" stroke-linejoin="round" textLength="65.40" lengthAdjust="spacingAndGlyphs">0.8670</text><text x="1046.20" y="92.75" font-family="'Liberation Sans', sans-serif" font-size="19.1" font-weight="normal" fill="#ff0000" stroke="#ff0000" stroke-width="0.8" stroke-linejoin="round" textLength="64.80" lengthAdjust="spacingAndGlyphs">0.8865</text><text x="1084.60" y="113.7" font-family="'Liberation Sans', sans-serif" font-size="19" font-weight="normal" fill="#ff0000" stroke="#ff0000" stroke-width="0.8" stroke-linejoin="round" textLength="65.40" lengthAdjust="spacingAndGlyphs">0.8840</text><text x="285.60" y="368.6" font-family="'Liberation Sans', sans-serif" font-size="19" font-weight="bold" fill="#1f4e8c" textLength="160.20" lengthAdjust="spacingAndGlyphs">21d weighted MA</text><text x="803.00" y="359.7" font-family="'Liberation Sans', sans-serif" font-size="18.7" font-weight="bold" fill="#f5821f" textLength="171.80" lengthAdjust="spacingAndGlyphs">233d weighted MA</text><text x="493.20" y="467.8" font-family="'Liberation Sans', sans-serif" font-size="18" font-weight="normal" fill="#000" stroke="#000" stroke-width="0.55" stroke-linejoin="round" textLength="251.00" lengthAdjust="spacingAndGlyphs">0.8930 := GBP/EUR 1.1200</text><text x="493.20" y="487.7" font-family="'Liberation Sans', sans-serif" font-size="18" font-weight="normal" fill="#000" stroke="#000" stroke-width="0.55" stroke-linejoin="round" textLength="251.00" lengthAdjust="spacingAndGlyphs">0.8850 := GBP/EUR 1.1300</text><text x="493.20" y="507.7" font-family="'Liberation Sans', sans-serif" font-size="18" font-weight="normal" fill="#000" stroke="#000" stroke-width="0.55" stroke-linejoin="round" textLength="251.00" lengthAdjust="spacingAndGlyphs">0.8772 := GBP/EUR 1.1400</text><text x="493.20" y="527.6" font-family="'Liberation Sans', sans-serif" font-size="18" font-weight="normal" fill="#000" stroke="#000" stroke-width="0.55" stroke-linejoin="round" textLength="251.00" lengthAdjust="spacingAndGlyphs">0.8695 := GBP/EUR 1.1500</text><g clip-path="url(#ind)"><line x1="18" x2="18" y1="628.5" y2="683.6" stroke="#ff0000" stroke-opacity="0.7" stroke-width="2"/><line x1="25" x2="25" y1="628.5" y2="689.5" stroke="#ff0000" stroke-opacity="0.7" stroke-width="2"/><line x1="33" x2="33" y1="628.5" y2="692.6" stroke="#ff0000" stroke-opacity="0.7" stroke-width="2"/><line x1="40" x2="40" y1="628.5" y2="694.6" stroke="#ff0000" stroke-opacity="0.7" stroke-width="2"/><line x1="48" x2="48" y1="628.5" y2="695.5" stroke="#ff0000" stroke-opacity="0.7" stroke-width="2"/><line x1="55" x2="55" y1="628.5" y2="693.4" stroke="#ff0000" stroke-opacity="0.7" stroke-width="2"/><line x1="63" x2="63" y1="628.5" y2="692.5" stroke="#ff0000" stroke-opacity="0.7" stroke-width="2"/><line x1="70" x2="70" y1="628.5" y2="692.1" stroke="#ff0000" stroke-opacity="0.7" stroke-width="2"/><line x1="78" x2="78" y1="628.5" y2="691.5" stroke="#ff0000" stroke-opacity="0.7" stroke-width="2"/><line x1="85" x2="85" y1="628.5" y2="691.0" stroke="#ff0000" stroke-opacity="0.7" stroke-width="2"/><line x1="93" x2="93" y1="628.5" y2="689.4" stroke="#ff0000" stroke-opacity="0.7" stroke-width="2"/><line x1="100" x2="100" y1="628.5" y2="687.5" stroke="#ff0000" stroke-opacity="0.7" stroke-width="2"/><line x1="108" x2="108" y1="628.5" y2="680.9" stroke="#ff0000" stroke-opacity="0.7" stroke-width="2"/><line x1="115" x2="115" y1="628.5" y2="672.4" stroke="#ff0000" stroke-opacity="0.7" stroke-width="2"/><line x1="123" x2="123" y1="628.5" y2="663.2" stroke="#ff0000" stroke-opacity="0.7" stroke-width="2"/><line x1="130" x2="130" y1="628.5" y2="657.7" stroke="#ff0000" stroke-opacity="0.7" stroke-width="2"/><line x1="138" x2="138" y1="628.5" y2="651.4" stroke="#ff0000" stroke-opacity="0.7" stroke-width="2"/><line x1="145" x2="145" y1="628.5" y2="646.8" stroke="#ff0000" stroke-opacity="0.7" stroke-width="2"/><line x1="153" x2="153" y1="628.5" y2="642.8" stroke="#ff0000" stroke-opacity="0.7" stroke-width="2"/><line x1="160" x2="160" y1="628.5" y2="638.6" stroke="#ff0000" stroke-opacity="0.7" stroke-width="2"/><line x1="168" x2="168" y1="628.5" y2="627.6" stroke="#ff0000" stroke-opacity="0.7" stroke-width="2"/><line x1="175" x2="175" y1="628.5" y2="618.1" stroke="#ff0000" stroke-opacity="0.7" stroke-width="2"/><line x1="183" x2="183" y1="628.5" y2="609.3" stroke="#ff0000" stroke-opacity="0.7" stroke-width="2"/><line x1="190" x2="190" y1="628.5" y2="601.5" stroke="#ff0000" stroke-opacity="0.7" stroke-width="2"/><line x1="198" x2="198" y1="628.5" y2="592.1" stroke="#ff0000" stroke-opacity="0.7" stroke-width="2"/><line x1="205" x2="205" y1="628.5" y2="584.0" stroke="#ff0000" stroke-opacity="0.7" stroke-width="2"/><line x1="213" x2="213" y1="628.5" y2="579.0" stroke="#ff0000" stroke-opacity="0.7" stroke-width="2"/><line x1="220" x2="220" y1="628.5" y2="574.7" stroke="#ff0000" stroke-opacity="0.7" stroke-width="2"/><line x1="228" x2="228" y1="628.5" y2="570.0" stroke="#ff0000" stroke-opacity="0.7" stroke-width="2"/><line x1="235" x2="235" y1="628.5" y2="570.4" stroke="#ff0000" stroke-opacity="0.7" stroke-width="2"/><line x1="243" x2="243" y1="628.5" y2="573.6" stroke="#ff0000" stroke-opacity="0.7" stroke-width="2"/><line x1="250" x2="250" y1="628.5" y2="577.0" stroke="#ff0000" stroke-opacity="0.7" stroke-width="2"/><line x1="258" x2="258" y1="628.5" y2="581.5" stroke="#ff0000" stroke-opacity="0.7" stroke-width="2"/><line x1="265" x2="265" y1="628.5" y2="581.4" stroke="#ff0000" stroke-opacity="0.7" stroke-width="2"/><line x1="273" x2="273" y1="628.5" y2="580.8" stroke="#ff0000" stroke-opacity="0.7" stroke-width="2"/><line x1="280" x2="280" y1="628.5" y2="575.8" stroke="#ff0000" stroke-opacity="0.7" stroke-width="2"/><line x1="288" x2="288" y1="628.5" y2="570.3" stroke="#ff0000" stroke-opacity="0.7" stroke-width="2"/><line x1="295" x2="295" y1="628.5" y2="568.7" stroke="#ff0000" stroke-opacity="0.7" stroke-width="2"/><line x1="303" x2="303" y1="628.5" y2="567.1" stroke="#ff0000" stroke-opacity="0.7" stroke-width="2"/><line x1="310" x2="310" y1="628.5" y2="567.1" stroke="#ff0000" stroke-opacity="0.7" stroke-width="2"/><line x1="318" x2="318" y1="628.5" y2="567.7" stroke="#ff0000" stroke-opacity="0.7" stroke-width="2"/><line x1="325" x2="325" y1="628.5" y2="568.5" stroke="#ff0000" stroke-opacity="0.7" stroke-width="2"/><line x1="333" x2="333" y1="628.5" y2="569.4" stroke="#ff0000" stroke-opacity="0.7" stroke-width="2"/><line x1="340" x2="340" y1="628.5" y2="568.2" stroke="#ff0000" stroke-opacity="0.7" stroke-width="2"/><line x1="348" x2="348" y1="628.5" y2="567.3" stroke="#ff0000" stroke-opacity="0.7" stroke-width="2"/><line x1="355" x2="355" y1="628.5" y2="568.7" stroke="#ff0000" stroke-opacity="0.7" stroke-width="2"/><line x1="363" x2="363" y1="628.5" y2="571.6" stroke="#ff0000" stroke-opacity="0.7" stroke-width="2"/><line x1="370" x2="370" y1="628.5" y2="575.1" stroke="#ff0000" stroke-opacity="0.7" stroke-width="2"/><line x1="378" x2="378" y1="628.5" y2="577.5" stroke="#ff0000" stroke-opacity="0.7" stroke-width="2"/><line x1="385" x2="385" y1="628.5" y2="579.6" stroke="#ff0000" stroke-opacity="0.7" stroke-width="2"/><line x1="393" x2="393" y1="628.5" y2="581.9" stroke="#ff0000" stroke-opacity="0.7" stroke-width="2"/><line x1="400" x2="400" y1="628.5" y2="581.2" stroke="#ff0000" stroke-opacity="0.7" stroke-width="2"/><line x1="408" x2="408" y1="628.5" y2="580.8" stroke="#ff0000" stroke-opacity="0.7" stroke-width="2"/><line x1="415" x2="415" y1="628.5" y2="583.0" stroke="#ff0000" stroke-opacity="0.7" stroke-width="2"/><line x1="423" x2="423" y1="628.5" y2="587.8" stroke="#ff0000" stroke-opacity="0.7" stroke-width="2"/><line x1="430" x2="430" y1="628.5" y2="596.3" stroke="#ff0000" stroke-opacity="0.7" stroke-width="2"/><line x1="438" x2="438" y1="628.5" y2="604.6" stroke="#ff0000" stroke-opacity="0.7" stroke-width="2"/><line x1="445" x2="445" y1="628.5" y2="607.0" stroke="#ff0000" stroke-opacity="0.7" stroke-width="2"/><line x1="453" x2="453" y1="628.5" y2="606.2" stroke="#ff0000" stroke-opacity="0.7" stroke-width="2"/><line x1="460" x2="460" y1="628.5" y2="605.6" stroke="#ff0000" stroke-opacity="0.7" stroke-width="2"/><line x1="468" x2="468" y1="628.5" y2="605.6" stroke="#ff0000" stroke-opacity="0.7" stroke-width="2"/><line x1="475" x2="475" y1="628.5" y2="606.3" stroke="#ff0000" stroke-opacity="0.7" stroke-width="2"/><line x1="483" x2="483" y1="628.5" y2="610.3" stroke="#ff0000" stroke-opacity="0.7" stroke-width="2"/><line x1="490" x2="490" y1="628.5" y2="615.6" stroke="#ff0000" stroke-opacity="0.7" stroke-width="2"/><line x1="498" x2="498" y1="628.5" y2="622.5" stroke="#ff0000" stroke-opacity="0.7" stroke-width="2"/><line x1="505" x2="505" y1="628.5" y2="628.9" stroke="#ff0000" stroke-opacity="0.7" stroke-width="2"/><line x1="513" x2="513" y1="628.5" y2="636.4" stroke="#ff0000" stroke-opacity="0.7" stroke-width="2"/><line x1="520" x2="520" y1="628.5" y2="642.6" stroke="#ff0000" stroke-opacity="0.7" stroke-width="2"/><line x1="528" x2="528" y1="628.5" y2="647.9" stroke="#ff0000" stroke-opacity="0.7" stroke-width="2"/><line x1="535" x2="535" y1="628.5" y2="650.3" stroke="#ff0000" stroke-opacity="0.7" stroke-width="2"/><line x1="543" x2="543" y1="628.5" y2="652.3" stroke="#ff0000" stroke-opacity="0.7" stroke-width="2"/><line x1="550" x2="550" y1="628.5" y2="649.9" stroke="#ff0000" stroke-opacity="0.7" stroke-width="2"/><line x1="558" x2="558" y1="628.5" y2="647.3" stroke="#ff0000" stroke-opacity="0.7" stroke-width="2"/><line x1="565" x2="565" y1="628.5" y2="645.9" stroke="#ff0000" stroke-opacity="0.7" stroke-width="2"/><line x1="573" x2="573" y1="628.5" y2="645.0" stroke="#ff0000" stroke-opacity="0.7" stroke-width="2"/><line x1="580" x2="580" y1="628.5" y2="645.2" stroke="#ff0000" stroke-opacity="0.7" stroke-width="2"/><line x1="588" x2="588" y1="628.5" y2="645.4" stroke="#ff0000" stroke-opacity="0.7" stroke-width="2"/><line x1="595" x2="595" y1="628.5" y2="643.3" stroke="#ff0000" stroke-opacity="0.7" stroke-width="2"/><line x1="603" x2="603" y1="628.5" y2="640.4" stroke="#ff0000" stroke-opacity="0.7" stroke-width="2"/><line x1="610" x2="610" y1="628.5" y2="635.5" stroke="#ff0000" stroke-opacity="0.7" stroke-width="2"/><line x1="618" x2="618" y1="628.5" y2="630.4" stroke="#ff0000" stroke-opacity="0.7" stroke-width="2"/><line x1="625" x2="625" y1="628.5" y2="627.5" stroke="#ff0000" stroke-opacity="0.7" stroke-width="2"/><line x1="633" x2="633" y1="628.5" y2="625.2" stroke="#ff0000" stroke-opacity="0.7" stroke-width="2"/><line x1="640" x2="640" y1="628.5" y2="623.7" stroke="#ff0000" stroke-opacity="0.7" stroke-width="2"/><line x1="648" x2="648" y1="628.5" y2="623.3" stroke="#ff0000" stroke-opacity="0.7" stroke-width="2"/><line x1="655" x2="655" y1="628.5" y2="624.5" stroke="#ff0000" stroke-opacity="0.7" stroke-width="2"/><line x1="663" x2="663" y1="628.5" y2="626.1" stroke="#ff0000" stroke-opacity="0.7" stroke-width="2"/><line x1="670" x2="670" y1="628.5" y2="627.8" stroke="#ff0000" stroke-opacity="0.7" stroke-width="2"/><line x1="678" x2="678" y1="628.5" y2="630.4" stroke="#ff0000" stroke-opacity="0.7" stroke-width="2"/><line x1="685" x2="685" y1="628.5" y2="629.3" stroke="#ff0000" stroke-opacity="0.7" stroke-width="2"/><line x1="693" x2="693" y1="628.5" y2="627.6" stroke="#ff0000" stroke-opacity="0.7" stroke-width="2"/><line x1="700" x2="700" y1="628.5" y2="625.5" stroke="#ff0000" stroke-opacity="0.7" stroke-width="2"/><line x1="708" x2="708" y1="628.5" y2="620.2" stroke="#ff0000" stroke-opacity="0.7" stroke-width="2"/><line x1="715" x2="715" y1="628.5" y2="615.1" stroke="#ff0000" stroke-opacity="0.7" stroke-width="2"/><line x1="723" x2="723" y1="628.5" y2="607.9" stroke="#ff0000" stroke-opacity="0.7" stroke-width="2"/><line x1="730" x2="730" y1="628.5" y2="602.1" stroke="#ff0000" stroke-opacity="0.7" stroke-width="2"/><line x1="738" x2="738" y1="628.5" y2="596.6" stroke="#ff0000" stroke-opacity="0.7" stroke-width="2"/><line x1="745" x2="745" y1="628.5" y2="593.4" stroke="#ff0000" stroke-opacity="0.7" stroke-width="2"/><line x1="753" x2="753" y1="628.5" y2="591.7" stroke="#ff0000" stroke-opacity="0.7" stroke-width="2"/><line x1="760" x2="760" y1="628.5" y2="591.0" stroke="#ff0000" stroke-opacity="0.7" stroke-width="2"/><line x1="768" x2="768" y1="628.5" y2="593.6" stroke="#ff0000" stroke-opacity="0.7" stroke-width="2"/><line x1="775" x2="775" y1="628.5" y2="596.7" stroke="#ff0000" stroke-opacity="0.7" stroke-width="2"/><line x1="783" x2="783" y1="628.5" y2="600.7" stroke="#ff0000" stroke-opacity="0.7" stroke-width="2"/><line x1="790" x2="790" y1="628.5" y2="606.0" stroke="#ff0000" stroke-opacity="0.7" stroke-width="2"/><line x1="798" x2="798" y1="628.5" y2="612.4" stroke="#ff0000" stroke-opacity="0.7" stroke-width="2"/><line x1="805" x2="805" y1="628.5" y2="618.4" stroke="#ff0000" stroke-opacity="0.7" stroke-width="2"/><line x1="813" x2="813" y1="628.5" y2="624.1" stroke="#ff0000" stroke-opacity="0.7" stroke-width="2"/><line x1="820" x2="820" y1="628.5" y2="626.1" stroke="#ff0000" stroke-opacity="0.7" stroke-width="2"/><line x1="828" x2="828" y1="628.5" y2="628.4" stroke="#ff0000" stroke-opacity="0.7" stroke-width="2"/><line x1="835" x2="835" y1="628.5" y2="629.3" stroke="#ff0000" stroke-opacity="0.7" stroke-width="2"/><line x1="843" x2="843" y1="628.5" y2="630.2" stroke="#ff0000" stroke-opacity="0.7" stroke-width="2"/><line x1="850" x2="850" y1="628.5" y2="631.1" stroke="#ff0000" stroke-opacity="0.7" stroke-width="2"/><line x1="858" x2="858" y1="628.5" y2="631.9" stroke="#ff0000" stroke-opacity="0.7" stroke-width="2"/><line x1="865" x2="865" y1="628.5" y2="632.6" stroke="#ff0000" stroke-opacity="0.7" stroke-width="2"/><line x1="873" x2="873" y1="628.5" y2="633.4" stroke="#ff0000" stroke-opacity="0.7" stroke-width="2"/><line x1="880" x2="880" y1="628.5" y2="633.1" stroke="#ff0000" stroke-opacity="0.7" stroke-width="2"/><line x1="888" x2="888" y1="628.5" y2="632.5" stroke="#ff0000" stroke-opacity="0.7" stroke-width="2"/><line x1="895" x2="895" y1="628.5" y2="629.0" stroke="#ff0000" stroke-opacity="0.7" stroke-width="2"/><line x1="903" x2="903" y1="628.5" y2="624.7" stroke="#ff0000" stroke-opacity="0.7" stroke-width="2"/><line x1="910" x2="910" y1="628.5" y2="618.9" stroke="#ff0000" stroke-opacity="0.7" stroke-width="2"/><line x1="918" x2="918" y1="628.5" y2="608.1" stroke="#ff0000" stroke-opacity="0.7" stroke-width="2"/><line x1="925" x2="925" y1="628.5" y2="598.3" stroke="#ff0000" stroke-opacity="0.7" stroke-width="2"/><line x1="933" x2="933" y1="628.5" y2="591.6" stroke="#ff0000" stroke-opacity="0.7" stroke-width="2"/><line x1="940" x2="940" y1="628.5" y2="588.8" stroke="#ff0000" stroke-opacity="0.7" stroke-width="2"/><line x1="948" x2="948" y1="628.5" y2="585.3" stroke="#ff0000" stroke-opacity="0.7" stroke-width="2"/><line x1="955" x2="955" y1="628.5" y2="581.5" stroke="#ff0000" stroke-opacity="0.7" stroke-width="2"/><line x1="963" x2="963" y1="628.5" y2="580.1" stroke="#ff0000" stroke-opacity="0.7" stroke-width="2"/><line x1="970" x2="970" y1="628.5" y2="581.2" stroke="#ff0000" stroke-opacity="0.7" stroke-width="2"/><line x1="978" x2="978" y1="628.5" y2="583.5" stroke="#ff0000" stroke-opacity="0.7" stroke-width="2"/><line x1="985" x2="985" y1="628.5" y2="586.0" stroke="#ff0000" stroke-opacity="0.7" stroke-width="2"/><line x1="993" x2="993" y1="628.5" y2="586.6" stroke="#ff0000" stroke-opacity="0.7" stroke-width="2"/><line x1="1000" x2="1000" y1="628.5" y2="586.0" stroke="#ff0000" stroke-opacity="0.7" stroke-width="2"/><line x1="1008" x2="1008" y1="628.5" y2="586.3" stroke="#ff0000" stroke-opacity="0.7" stroke-width="2"/><line x1="1015" x2="1015" y1="628.5" y2="587.8" stroke="#ff0000" stroke-opacity="0.7" stroke-width="2"/><line x1="1023" x2="1023" y1="628.5" y2="589.6" stroke="#ff0000" stroke-opacity="0.7" stroke-width="2"/><line x1="1030" x2="1030" y1="628.5" y2="591.6" stroke="#ff0000" stroke-opacity="0.7" stroke-width="2"/><line x1="1038" x2="1038" y1="628.5" y2="593.9" stroke="#ff0000" stroke-opacity="0.7" stroke-width="2"/><line x1="1045" x2="1045" y1="628.5" y2="597.7" stroke="#ff0000" stroke-opacity="0.7" stroke-width="2"/><line x1="1053" x2="1053" y1="628.5" y2="602.4" stroke="#ff0000" stroke-opacity="0.7" stroke-width="2"/><line x1="1060" x2="1060" y1="628.5" y2="606.9" stroke="#ff0000" stroke-opacity="0.7" stroke-width="2"/><line x1="1068" x2="1068" y1="628.5" y2="612.6" stroke="#ff0000" stroke-opacity="0.7" stroke-width="2"/><line x1="1075" x2="1075" y1="628.5" y2="618.9" stroke="#ff0000" stroke-opacity="0.7" stroke-width="2"/><line x1="1083" x2="1083" y1="628.5" y2="626.7" stroke="#ff0000" stroke-opacity="0.7" stroke-width="2"/><line x1="1090" x2="1090" y1="628.5" y2="632.5" stroke="#ff0000" stroke-opacity="0.7" stroke-width="2"/><line x1="1098" x2="1098" y1="628.5" y2="634.6" stroke="#ff0000" stroke-opacity="0.7" stroke-width="2"/><line x1="1105" x2="1105" y1="628.5" y2="638.1" stroke="#ff0000" stroke-opacity="0.7" stroke-width="2"/><line x1="1113" x2="1113" y1="628.5" y2="644.1" stroke="#ff0000" stroke-opacity="0.7" stroke-width="2"/><line x1="1120" x2="1120" y1="628.5" y2="648.3" stroke="#ff0000" stroke-opacity="0.7" stroke-width="2"/><line x1="1128" x2="1128" y1="628.5" y2="652.8" stroke="#ff0000" stroke-opacity="0.7" stroke-width="2"/><line x1="1135" x2="1135" y1="628.5" y2="655.0" stroke="#ff0000" stroke-opacity="0.7" stroke-width="2"/><line x1="1143" x2="1143" y1="628.5" y2="656.7" stroke="#ff0000" stroke-opacity="0.7" stroke-width="2"/><line x1="1150" x2="1150" y1="628.5" y2="656.0" stroke="#ff0000" stroke-opacity="0.7" stroke-width="2"/><line x1="1158" x2="1158" y1="628.5" y2="652.0" stroke="#ff0000" stroke-opacity="0.7" stroke-width="2"/><line x1="1165" x2="1165" y1="628.5" y2="648.9" stroke="#ff0000" stroke-opacity="0.7" stroke-width="2"/><line x1="1173" x2="1173" y1="628.5" y2="645.6" stroke="#ff0000" stroke-opacity="0.7" stroke-width="2"/><line x1="1180" x2="1180" y1="628.5" y2="643.4" stroke="#ff0000" stroke-opacity="0.7" stroke-width="2"/><line x1="1188" x2="1188" y1="628.5" y2="641.1" stroke="#ff0000" stroke-opacity="0.7" stroke-width="2"/><line x1="1195" x2="1195" y1="628.5" y2="639.9" stroke="#ff0000" stroke-opacity="0.7" stroke-width="2"/><line x1="1203" x2="1203" y1="628.5" y2="638.9" stroke="#ff0000" stroke-opacity="0.7" stroke-width="2"/><line x1="13" x2="1329" y1="628.5" y2="628.5" stroke="#e2f8f8" stroke-width="1"/><line x1="13" x2="1329" y1="628.5" y2="628.5" stroke="#ff0000" stroke-width="1" stroke-dasharray="1 2"/><path d="M13.70,679.60 C15.68,681.27 21.72,687.22 25.60,689.60 C29.48,691.98 33.43,692.85 37.00,693.90 C40.57,694.95 43.67,696.05 47.00,695.90 C50.33,695.75 50.58,693.82 57.00,693.00 C63.42,692.18 78.38,691.80 85.50,691.00 C92.62,690.20 95.90,689.85 99.70,688.20 C103.50,686.55 104.50,685.13 108.30,681.10 C112.10,677.07 116.80,669.47 122.50,664.00 C128.20,658.53 136.32,652.33 142.50,648.30 C148.68,644.27 154.15,644.78 159.60,639.80 C165.05,634.82 170.22,624.58 175.20,618.40 C180.18,612.22 184.50,608.40 189.50,602.70 C194.50,597.00 198.78,589.65 205.20,584.20 C211.62,578.75 222.78,572.28 228.00,570.00 C233.22,567.72 233.18,569.57 236.50,570.50 C239.82,571.43 244.10,573.70 247.90,575.60 C251.70,577.50 255.03,581.03 259.30,581.90 C263.57,582.77 268.75,582.70 273.50,580.80 C278.25,578.90 283.05,572.78 287.80,570.50 C292.55,568.22 297.73,567.67 302.00,567.10 C306.27,566.53 308.17,566.72 313.40,567.10 C318.63,567.48 327.70,569.40 333.40,569.40 C339.10,569.40 343.33,567.10 347.60,567.10 C351.87,567.10 355.20,568.07 359.00,569.40 C362.80,570.73 364.70,573.02 370.40,575.10 C376.10,577.18 387.50,580.95 393.20,581.90 C398.90,582.85 401.57,580.98 404.60,580.80 C407.63,580.62 408.37,579.77 411.40,580.80 C414.43,581.83 418.53,583.12 422.80,587.00 C427.07,590.88 433.20,600.77 437.00,604.10 C440.80,607.43 441.80,606.75 445.60,607.00 C449.40,607.25 455.05,605.83 459.80,605.60 C464.55,605.37 469.82,604.65 474.10,605.60 C478.38,606.55 481.23,608.32 485.50,611.30 C489.77,614.28 494.95,619.23 499.70,623.50 C504.45,627.77 509.72,633.00 514.00,636.90 C518.28,640.80 520.65,644.28 525.40,646.90 C530.15,649.52 536.80,652.60 542.50,652.60 C548.20,652.60 554.85,648.18 559.60,646.90 C564.35,645.62 566.25,645.13 571.00,644.90 C575.75,644.67 582.88,646.12 588.10,645.50 C593.32,644.88 597.55,643.58 602.30,641.20 C607.05,638.82 612.32,633.67 616.60,631.20 C620.88,628.73 623.27,627.82 628.00,626.40 C632.73,624.98 640.27,622.98 645.00,622.70 C649.73,622.42 652.60,624.00 656.40,624.70 C660.20,625.40 664.00,625.92 667.80,626.90 C671.60,627.88 673.97,630.68 679.20,630.60 C684.43,630.52 693.50,628.67 699.20,626.40 C704.90,624.13 708.65,620.72 713.40,617.00 C718.15,613.28 722.95,607.90 727.70,604.10 C732.45,600.30 736.68,596.47 741.90,594.20 C747.12,591.93 754.25,590.50 759.00,590.50 C763.75,590.50 766.12,592.40 770.40,594.20 C774.68,596.00 779.95,598.22 784.70,601.30 C789.45,604.38 794.45,609.00 798.90,612.70 C803.35,616.40 806.47,620.88 811.40,623.50 C816.33,626.12 821.85,627.12 828.50,628.40 C835.15,629.68 843.70,630.35 851.30,631.20 C858.90,632.05 867.93,633.27 874.10,633.50 C880.27,633.73 883.55,633.93 888.30,632.60 C893.05,631.27 898.80,627.87 902.60,625.50 C906.40,623.13 907.30,622.92 911.10,618.40 C914.90,613.88 921.60,602.92 925.40,598.40 C929.20,593.88 930.58,593.20 933.90,591.30 C937.22,589.40 941.50,588.75 945.30,587.00 C949.10,585.25 953.37,581.98 956.70,580.80 C960.03,579.62 961.97,579.57 965.30,579.90 C968.63,580.23 972.90,581.62 976.70,582.80 C980.50,583.98 983.35,586.53 988.10,587.00 C992.85,587.47 999.50,585.22 1005.20,585.60 C1010.90,585.98 1016.60,587.87 1022.30,589.30 C1028.00,590.73 1033.70,591.73 1039.40,594.20 C1045.10,596.67 1051.28,600.78 1056.50,604.10 C1061.72,607.42 1066.43,610.53 1070.70,614.10 C1074.97,617.67 1078.78,622.42 1082.10,625.50 C1085.42,628.58 1087.28,630.93 1090.60,632.60 C1093.92,634.27 1098.20,633.60 1102.00,635.50 C1105.80,637.40 1109.12,641.15 1113.40,644.00 C1117.68,646.85 1122.95,650.45 1127.70,652.60 C1132.45,654.75 1138.10,656.33 1141.90,656.90 C1145.70,657.47 1147.17,657.10 1150.50,656.00 C1153.83,654.90 1157.63,652.20 1161.90,650.30 C1166.17,648.40 1171.35,646.22 1176.10,644.60 C1180.85,642.98 1185.88,641.55 1190.40,640.60 C1194.92,639.65 1201.07,639.18 1203.20,638.90" fill="none" stroke="#ff0000" stroke-opacity="0.7" stroke-width="2.4" stroke-linejoin="round"/><path d="M13.70,669.10 C16.17,671.10 22.72,676.97 28.50,681.10 C34.28,685.23 41.28,692.00 48.40,693.90 C55.52,695.80 62.65,693.22 71.20,692.50 C79.75,691.78 93.52,690.65 99.70,689.60 C105.88,688.55 104.02,689.52 108.30,686.20 C112.58,682.88 119.70,674.83 125.40,669.70 C131.10,664.57 135.85,660.63 142.50,655.40 C149.15,650.17 159.60,643.28 165.30,638.30 C171.00,633.32 171.00,631.90 176.70,625.50 C182.40,619.10 192.85,607.27 199.50,599.90 C206.15,592.53 210.90,585.92 216.60,581.30 C222.30,576.68 228.48,573.52 233.70,572.20 C238.92,570.88 241.73,572.12 247.90,573.40 C254.07,574.68 264.53,579.53 270.70,579.90 C276.87,580.27 278.25,577.63 284.90,575.60 C291.55,573.57 302.05,568.73 310.60,567.70 C319.15,566.67 328.60,569.27 336.20,569.40 C343.80,569.53 349.07,567.47 356.20,568.50 C363.33,569.53 371.40,573.55 379.00,575.60 C386.60,577.65 395.93,579.85 401.80,580.80 C407.67,581.75 409.75,579.78 414.20,581.30 C418.65,582.82 423.27,586.47 428.50,589.90 C433.73,593.33 439.90,599.20 445.60,601.90 C451.30,604.60 457.00,605.25 462.70,606.10 C468.40,606.95 474.10,605.43 479.80,607.00 C485.50,608.57 491.20,611.70 496.90,615.50 C502.60,619.30 508.30,625.05 514.00,629.80 C519.70,634.55 525.40,640.58 531.10,644.00 C536.80,647.42 541.55,649.92 548.20,650.30 C554.85,650.68 563.40,647.25 571.00,646.30 C578.60,645.35 587.15,645.45 593.80,644.60 C600.45,643.75 605.20,643.20 610.90,641.20 C616.60,639.20 621.83,635.35 628.00,632.60 C634.17,629.85 641.27,625.73 647.90,624.70 C654.53,623.67 661.63,625.65 667.80,626.40 C673.97,627.15 678.25,629.12 684.90,629.20 C691.55,629.28 700.57,629.88 707.70,626.90 C714.83,623.92 721.05,616.28 727.70,611.30 C734.35,606.32 741.43,600.33 747.60,597.00 C753.77,593.67 759.00,591.53 764.70,591.30 C770.40,591.07 776.10,593.22 781.80,595.60 C787.50,597.98 793.50,602.03 798.90,605.60 C804.30,609.17 808.32,613.53 814.20,617.00 C820.08,620.47 827.07,624.13 834.20,626.40 C841.33,628.67 849.40,629.42 857.00,630.60 C864.60,631.78 873.15,633.40 879.80,633.50 C886.45,633.60 891.68,632.67 896.90,631.20 C902.12,629.73 906.35,627.55 911.10,624.70 C915.85,621.85 920.65,618.48 925.40,614.10 C930.15,609.72 934.85,602.67 939.60,598.40 C944.35,594.13 948.67,591.25 953.90,588.50 C959.13,585.75 964.35,582.38 971.00,581.90 C977.65,581.42 986.20,584.65 993.80,585.60 C1001.40,586.55 1009.00,586.42 1016.60,587.60 C1024.20,588.78 1032.75,590.52 1039.40,592.70 C1046.05,594.88 1050.82,597.13 1056.50,600.70 C1062.18,604.27 1067.82,609.82 1073.50,614.10 C1079.18,618.38 1084.90,622.83 1090.60,626.40 C1096.30,629.97 1102.00,632.08 1107.70,635.50 C1113.40,638.92 1119.10,643.67 1124.80,646.90 C1130.50,650.13 1137.15,653.48 1141.90,654.90 C1146.65,656.32 1148.55,656.02 1153.30,655.40 C1158.05,654.78 1164.70,653.00 1170.40,651.20 C1176.10,649.40 1182.03,646.37 1187.50,644.60 C1192.97,642.83 1200.58,641.27 1203.20,640.60" fill="none" stroke="#0000ff" stroke-opacity="0.7" stroke-width="2.4" stroke-linejoin="round"/></g><text x="29.00" y="580.8" font-family="'Liberation Sans', sans-serif" font-size="18.8" font-weight="normal" fill="#000" stroke="#000" stroke-width="0.8" stroke-linejoin="round" textLength="158.00" lengthAdjust="spacingAndGlyphs">Tension Indicator</text><line x1="13" x2="1461" y1="550.5" y2="550.5" stroke="#e0e3eb" stroke-width="1"/><line x1="13" x2="1461" y1="710.5" y2="710.5" stroke="#50535e" stroke-width="1"/><line x1="1329.5" x2="1329.5" y1="34" y2="765" stroke="#50535e" stroke-width="1"/><text x="95.80" y="742.9" font-family="'Liberation Sans', sans-serif" font-size="24" font-weight="normal" fill="#131722" textLength="40.00" lengthAdjust="spacingAndGlyphs">Jun</text><text x="256.00" y="742.9" font-family="'Liberation Sans', sans-serif" font-size="24" font-weight="normal" fill="#131722" textLength="34.00" lengthAdjust="spacingAndGlyphs">Jul</text><text x="425.60" y="742.9" font-family="'Liberation Sans', sans-serif" font-size="24" font-weight="normal" fill="#131722" textLength="41.20" lengthAdjust="spacingAndGlyphs">Aug</text><text x="582.80" y="742.9" font-family="'Liberation Sans', sans-serif" font-size="24" font-weight="normal" fill="#131722" textLength="39.60" lengthAdjust="spacingAndGlyphs">Sep</text><text x="748.00" y="742.9" font-family="'Liberation Sans', sans-serif" font-size="24" font-weight="normal" fill="#131722" textLength="38.80" lengthAdjust="spacingAndGlyphs">Oct</text><text x="919.00" y="742.9" font-family="'Liberation Sans', sans-serif" font-size="24" font-weight="normal" fill="#131722" textLength="41.20" lengthAdjust="spacingAndGlyphs">Nov</text><text x="1069.40" y="742.9" font-family="'Liberation Sans', sans-serif" font-size="24" font-weight="normal" fill="#131722" textLength="41.80" lengthAdjust="spacingAndGlyphs">Dec</text><text x="1234.40" y="742.9" font-family="'Liberation Sans', sans-serif" font-size="24" font-weight="bold" fill="#131722" textLength="57.40" lengthAdjust="spacingAndGlyphs">2026</text><rect x="1334" y="39" width="122" height="62.5" rx="6" fill="#fff" stroke="#ededed" stroke-width="1"/><text x="1344.80" y="74.8" font-family="'Liberation Sans', sans-serif" font-size="14.7" font-weight="normal" fill="#131722" textLength="27.80" lengthAdjust="spacingAndGlyphs">GBP</text><text x="1346.00" y="147.1" font-family="'Liberation Sans', sans-serif" font-size="24" font-weight="normal" fill="#131722" textLength="88.40" lengthAdjust="spacingAndGlyphs">0.88000</text><text x="1346.00" y="231.1" font-family="'Liberation Sans', sans-serif" font-size="24" font-weight="normal" fill="#131722" textLength="88.40" lengthAdjust="spacingAndGlyphs">0.87000</text><text x="1346.00" y="314.1" font-family="'Liberation Sans', sans-serif" font-size="24" font-weight="normal" fill="#131722" textLength="88.40" lengthAdjust="spacingAndGlyphs">0.86000</text><text x="1346.00" y="396.1" font-family="'Liberation Sans', sans-serif" font-size="24" font-weight="normal" fill="#131722" textLength="88.40" lengthAdjust="spacingAndGlyphs">0.85000</text><text x="1346.00" y="479.1" font-family="'Liberation Sans', sans-serif" font-size="24" font-weight="normal" fill="#131722" textLength="88.40" lengthAdjust="spacingAndGlyphs">0.84000</text><path d="M1330,132.1 H1441.5 a2.3,2.3 0 0 1 2.3,2.3 V164.1 a2.3,2.3 0 0 1 -2.3,2.3 H1330 Z" fill="#3c3fa0"/><text x="1345.80" y="157.8" font-family="'Liberation Sans', sans-serif" font-size="24" font-weight="normal" fill="#fff" textLength="88.00" lengthAdjust="spacingAndGlyphs">0.87563</text><path d="M1330,167.3 H1441.5 a2.3,2.3 0 0 1 2.3,2.3 V199.5 a2.3,2.3 0 0 1 -2.3,2.3 H1330 Z" fill="#cc0000"/><text x="1345.80" y="193.1" font-family="'Liberation Sans', sans-serif" font-size="24" font-weight="normal" fill="#fff" textLength="88.00" lengthAdjust="spacingAndGlyphs">0.87456</text><path d="M1330,237.6 H1441.5 a2.3,2.3 0 0 1 2.3,2.3 V268.3 a2.3,2.3 0 0 1 -2.3,2.3 H1330 Z" fill="#bf8f00"/><text x="1345.80" y="262.6" font-family="'Liberation Sans', sans-serif" font-size="24" font-weight="normal" fill="#fff" textLength="88.00" lengthAdjust="spacingAndGlyphs">0.86608</text><g fill="#131722"><path d="M15.4,792.4 H31.1 V811.4 H23.1 V800 H15.4 Z"/><circle cx="37.1" cy="795.7" r="3.2"/><path d="M41.6,792.4 H52.7 L45.3,811.4 H37.1 Z"/></g><text x="62.00" y="811.4" font-family="'Liberation Sans', sans-serif" font-size="26.5" font-weight="bold" fill="#131722" textLength="151.00" lengthAdjust="spacingAndGlyphs">TradingView</text></svg>
</body></html>
